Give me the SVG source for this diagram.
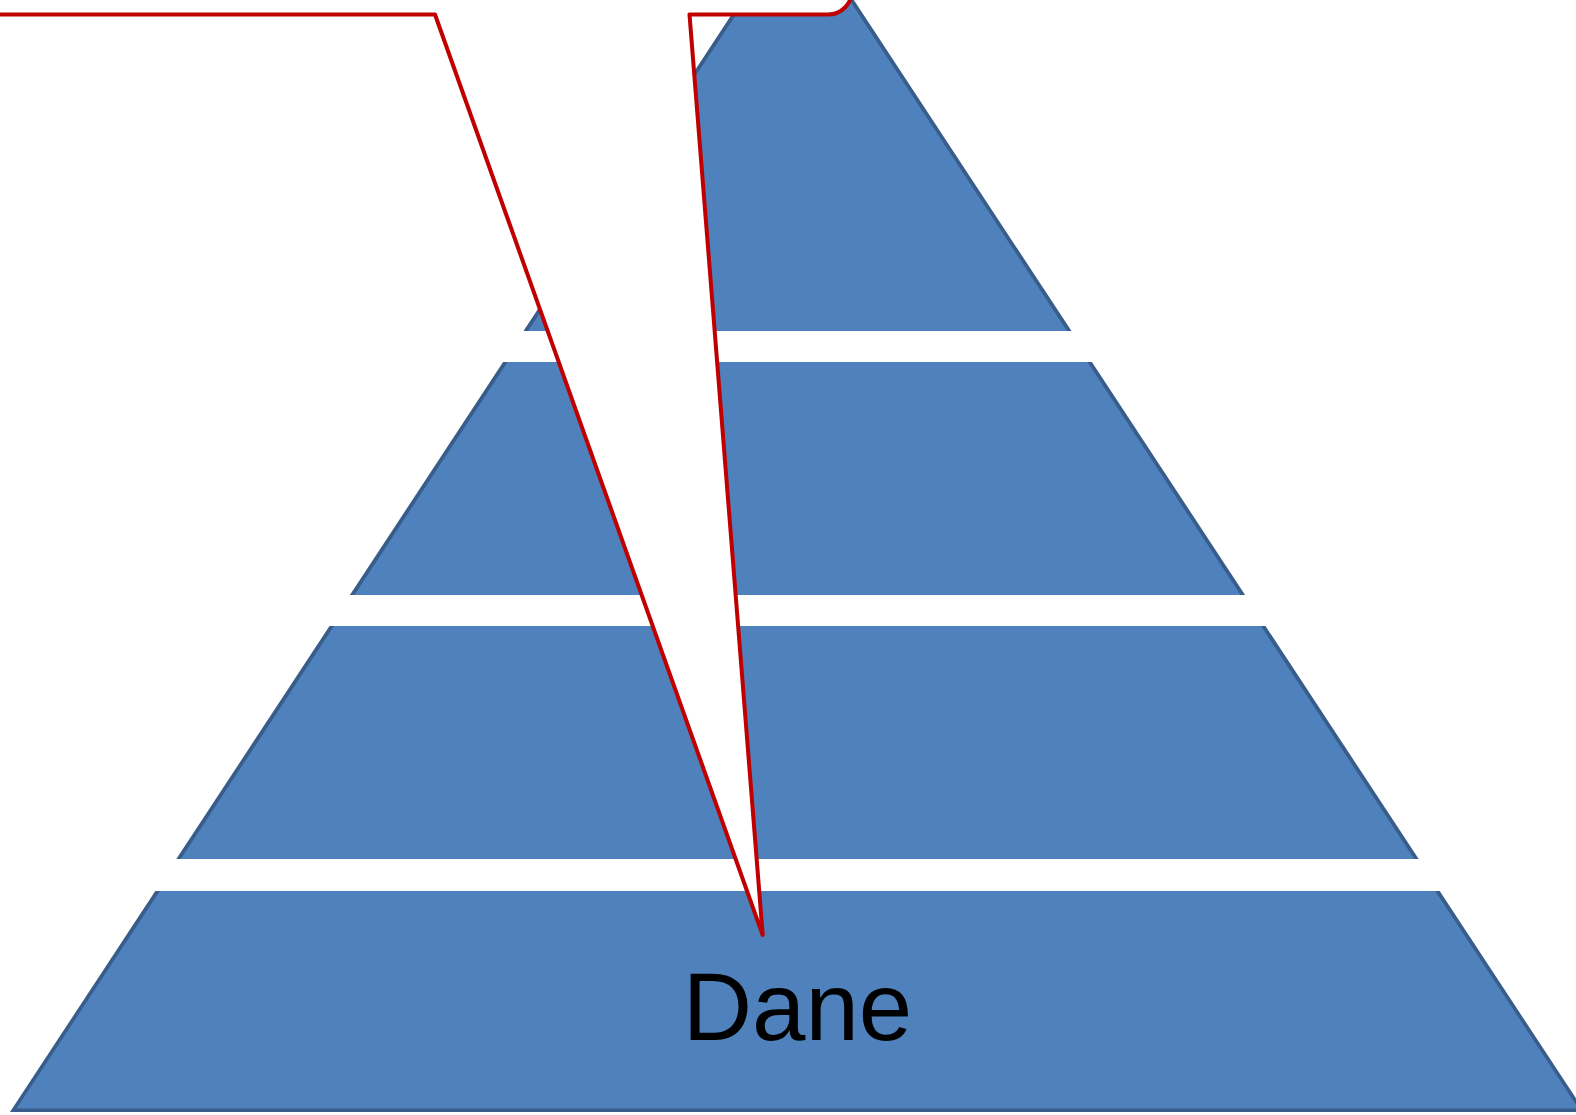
<svg xmlns="http://www.w3.org/2000/svg" width="1576" height="1115" viewBox="0 0 1576 1115">
  <style>
    .edge { fill: #385d8a; }
    .face { fill: #4f81bd; }
    .label { font-family: "Liberation Sans", Arial, sans-serif; font-size: 96px; fill: #000000; text-anchor: middle; }
    .callout { fill: #ffffff; stroke: #c00000; stroke-width: 4; stroke-linejoin: round; }
  </style>
  <rect x="0" y="0" width="1576" height="1115" fill="#ffffff"/>
  <g id="level-1">
    <polygon class="edge" points="797.5,-85.7 1071.5,331 523.5,331"/>
    <polygon class="face" points="797.5,-78.9 1067,331 528,331"/>
  </g>
  <g id="level-2">
    <polygon class="edge" points="503.1,362 1091.9,362 1245.1,595 349.9,595"/>
    <polygon class="face" points="507.6,362 1087.4,362 1240.6,595 354.4,595"/>
  </g>
  <g id="level-3">
    <polygon class="edge" points="329.5,626 1265.5,626 1418.7,859 176.3,859"/>
    <polygon class="face" points="334,626 1261,626 1414.2,859 180.8,859"/>
  </g>
  <g id="level-4">
    <polygon class="edge" points="155.3,891 1439.7,891 1585,1112 10,1112"/>
    <polygon class="face" points="159.8,891 1435.2,891 1578.5,1108.5 16.5,1108.5"/>
    <text class="label" x="797.5" y="1040">Dane</text>
  </g>
  <g id="callout">
    <path class="callout" d="M -20,14.5 H 435 L 762.7,935 L 689.5,14.5 H 828 A 24 24 0 0 0 852,-9.5 V -120 H -20 Z"/>
  </g>
</svg>
